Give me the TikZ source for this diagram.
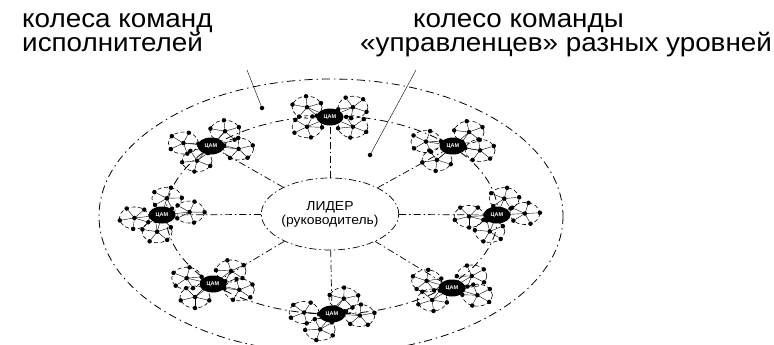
\documentclass[tikz,border=0pt]{standalone}
\usepackage{fontspec}
\setmainfont{Liberation Sans}
\newfontfamily\widefont[FakeStretch=1.07]{Liberation Sans}
\usetikzlibrary{calc,positioning,shapes.geometric}

\tikzset{
  ring/.style={dash pattern=on 8pt off 4pt on 1.5pt off 4pt, line width=0.8pt},
  teamring/.style={dash pattern=on 4pt off 2.5pt, line width=0.6pt},
  spoke/.style={dash pattern=on 7pt off 3pt on 1.5pt off 3pt, line width=0.7pt},
  hub/.style={ellipse, fill=black, text=white, inner sep=0pt, minimum width=27pt, minimum height=17pt,
    font=\fontsize{5.5}{5.5}\selectfont\bfseries},
  member/.style={circle, fill=black, inner sep=0pt, minimum size=4.5pt},
  caption/.style={font=\widefont\fontsize{26}{26}\selectfont, inner sep=0pt, anchor=base west},
}

% one team of executors: hub with four small wheels round it
\newcommand{\teamwheel}[4]{%
  \coordinate (#1) at (#2,#3);
  \foreach \a [count=\k] in {35,145,215,325}{
    \coordinate (#1-\k) at ($(#1)+({28*cos(\a+#4)},{-17*sin(\a+#4)})$);
    \draw[teamring] (#1-\k) ellipse (15 and 11);
    \draw (#1) -- (#1-\k);
    \foreach \b in {0,72,144,216,288}{
      \node[member] (#1-\k-\b) at ($(#1-\k)+({15*cos(\b+25*\k+#4)},{11*sin(\b+25*\k+#4)})$) {};
      \draw (#1-\k) -- (#1-\k-\b);
    }
    \node[member] (#1-\k-c) at (#1-\k) {};
  }
  \node[hub] (#1) at (#2,#3) {ЦАМ};
}

\begin{document}
\begin{tikzpicture}[x=1pt,y=-1pt]
  \useasboundingbox (0,0) rectangle (774,345);
  \clip (0,0) rectangle (774,345);

  % wheels
  \draw[ring] (331,216) ellipse (232 and 137);
  \draw[ring] (332,215) ellipse (166 and 99);

  % leader in the middle
  \node[draw, ellipse, spoke, minimum width=96pt, minimum height=72pt, inner sep=0pt,
    align=center, font=\widefont\fontsize{13}{14}\selectfont] (leader) at (330,214)
    {ЛИДЕР\\(руководитель)};

  % teams round the wheel
  \teamwheel{tT}{330}{117}{0}
  \teamwheel{tUR}{453}{146}{20}
  \teamwheel{tR}{497}{215}{40}
  \teamwheel{tLR}{452}{288}{10}
  \teamwheel{tB}{332}{314}{30}
  \teamwheel{tLL}{213}{284}{15}
  \teamwheel{tL}{162}{215}{45}
  \teamwheel{tUL}{211}{146}{25}

  \foreach \t in {tT,tUR,tR,tLR,tB,tLL,tL,tUL}{
    \draw[spoke] (leader) -- (\t);
  }

  % captions
  \node[caption] (capA1) at (22,28) {колеса команд};
  \node[caption] (capA2) at (22,52) {исполнителей};
  \node[caption] (capB1) at (413,28) {колесо команды};
  \node[caption] (capB2) at (360,52) {«управленцев» разных уровней};

  \coordinate (footA) at (247,70);
  \node[member] (tipA) at (262,108) {};
  \draw (footA) -- (tipA);
  \coordinate (footB) at (416,70);
  \node[member] (tipB) at (370,155) {};
  \draw (footB) -- (tipB);
\end{tikzpicture}
\end{document}
